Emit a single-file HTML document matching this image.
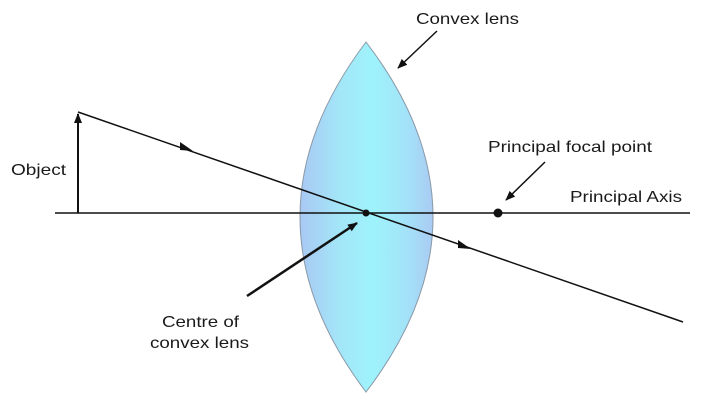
<!DOCTYPE html>
<html><head><style>body{margin:0;background:#fff}svg{display:block}text{font-family:"Liberation Sans",sans-serif;font-size:16px;fill:#1a1a1a}</style></head>
<body>
<svg width="708" height="403" viewBox="0 0 708 403" xmlns="http://www.w3.org/2000/svg">
<defs>
<linearGradient id="g" x1="300" y1="0" x2="433" y2="0" gradientUnits="userSpaceOnUse">
<stop offset="0" stop-color="#a9c8f3"/><stop offset="0.3" stop-color="#a3e6f8"/><stop offset="0.55" stop-color="#9ef3fb"/><stop offset="0.8" stop-color="#a3e2f8"/><stop offset="1" stop-color="#aacbf3"/>
</linearGradient>
<marker id="a" markerWidth="10" markerHeight="8" refX="9" refY="4" orient="auto" markerUnits="userSpaceOnUse"><path d="M0,0 L10,4 L0,8 Z" fill="#111"/></marker>
</defs>
<path d="M366,42 Q234,217 366,392 Q500,217 366,42 Z" fill="url(#g)" stroke="#8a9aa8" stroke-width="1"/>
<line x1="55" y1="213" x2="690" y2="213" stroke="#111" stroke-width="1.5"/>
<line x1="78" y1="213" x2="78" y2="114" stroke="#111" stroke-width="2" marker-end="url(#a)"/>
<line x1="78" y1="112" x2="683" y2="322" stroke="#111" stroke-width="1.5"/>
<path d="M180,142 L193,151 L180,150 Z" fill="#111"/>
<path d="M458,240 L471,249 L458,248 Z" fill="#111"/>
<circle cx="366" cy="213" r="3.5" fill="#111"/>
<circle cx="498" cy="213" r="4.5" fill="#111"/>
<line x1="437" y1="31" x2="398" y2="68" stroke="#111" stroke-width="1.5" marker-end="url(#a)"/>
<line x1="545" y1="162" x2="506" y2="200" stroke="#111" stroke-width="1.5" marker-end="url(#a)"/>
<line x1="247" y1="296" x2="357" y2="223" stroke="#111" stroke-width="2.5" marker-end="url(#a)"/>
<text x="416" y="24" textLength="103" lengthAdjust="spacingAndGlyphs">Convex lens</text>
<text x="11" y="175" textLength="55" lengthAdjust="spacingAndGlyphs">Object</text>
<text x="488" y="152" textLength="164" lengthAdjust="spacingAndGlyphs">Principal focal point</text>
<text x="570" y="202" textLength="112" lengthAdjust="spacingAndGlyphs">Principal Axis</text>
<text x="162" y="327" textLength="77" lengthAdjust="spacingAndGlyphs">Centre of</text>
<text x="150" y="348" textLength="99" lengthAdjust="spacingAndGlyphs">convex lens</text>
</svg>
</body></html>
